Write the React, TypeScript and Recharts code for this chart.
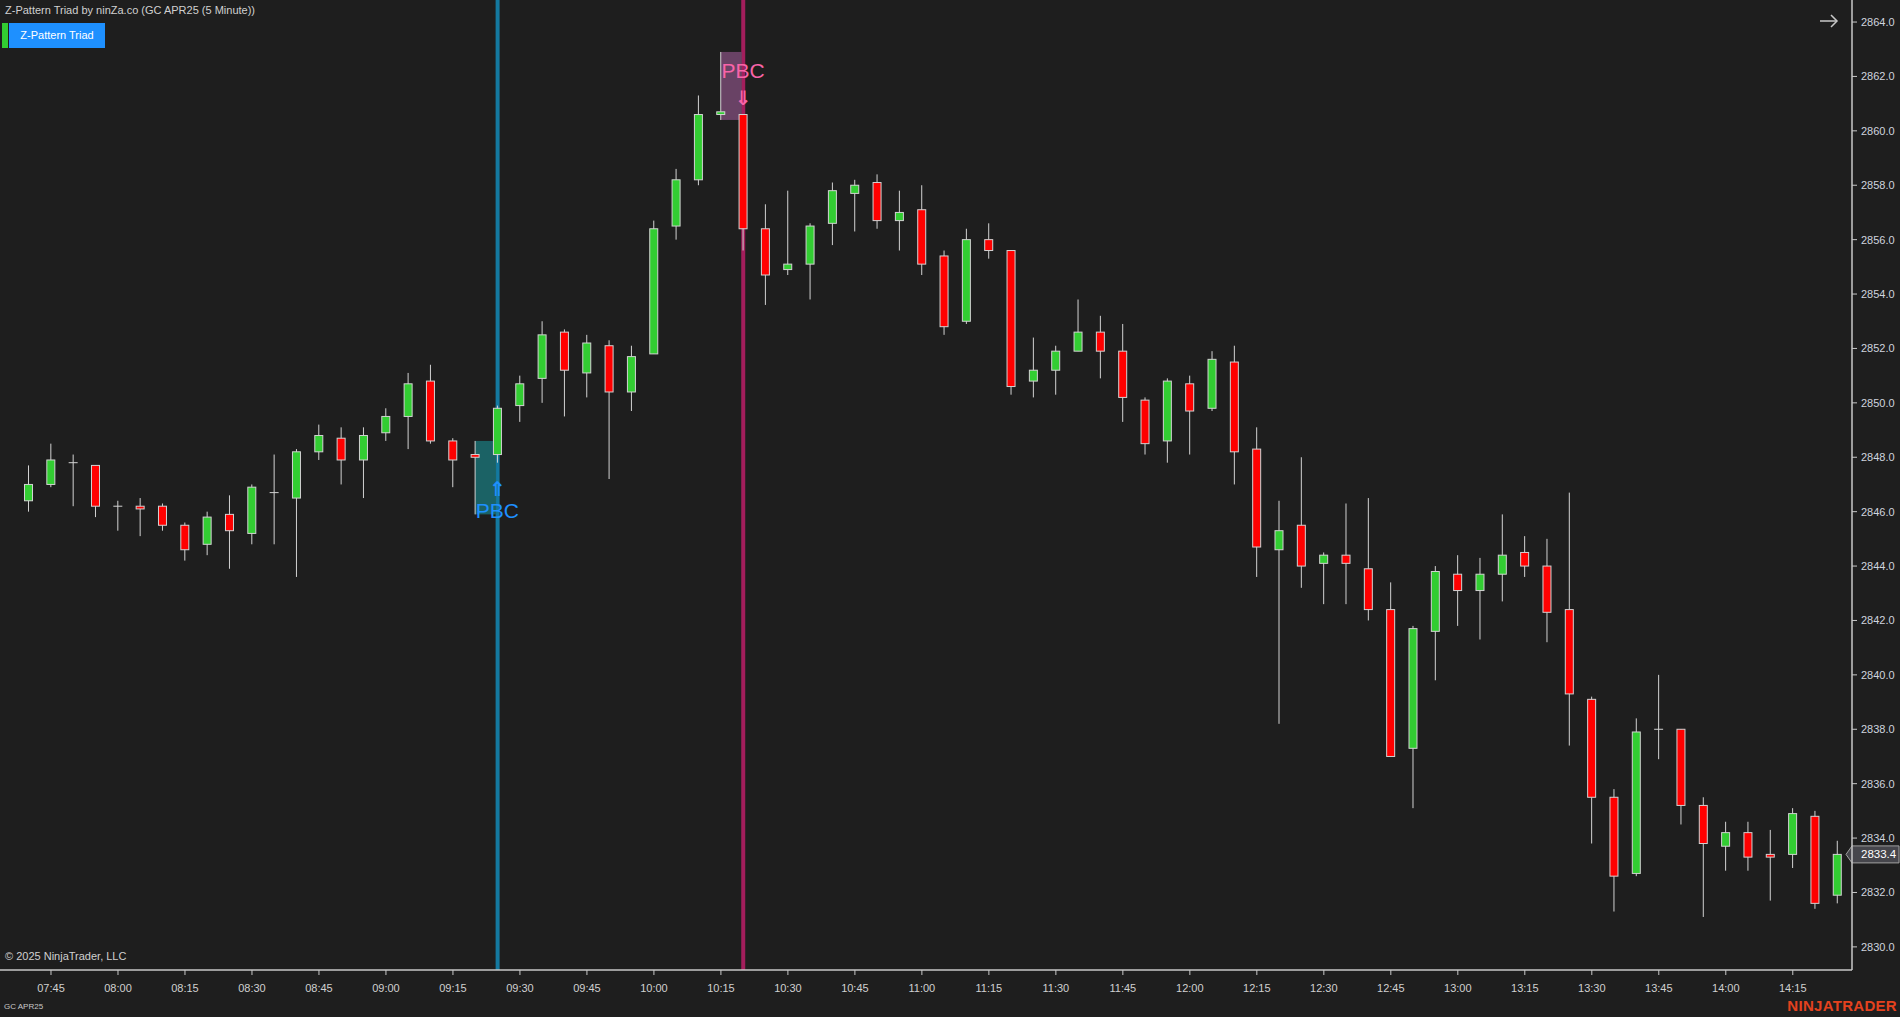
import React from 'react';
import { ComposedChart, Bar, XAxis, YAxis, ReferenceLine } from 'recharts';

const times = [
  '07:40', '07:45', '07:50', '07:55', '08:00', '08:05', '08:10', '08:15', '08:20', '08:25',
  '08:30', '08:35', '08:40', '08:45', '08:50', '08:55', '09:00', '09:05', '09:10', '09:15',
  '09:20', '09:25', '09:30', '09:35', '09:40', '09:45', '09:50', '09:55', '10:00', '10:05',
  '10:10', '10:15', '10:20', '10:25', '10:30', '10:35', '10:40', '10:45', '10:50', '10:55',
  '11:00', '11:05', '11:10', '11:15', '11:20', '11:25', '11:30', '11:35', '11:40', '11:45',
  '11:50', '11:55', '12:00', '12:05', '12:10', '12:15', '12:20', '12:25', '12:30', '12:35',
  '12:40', '12:45', '12:50', '12:55', '13:00', '13:05', '13:10', '13:15', '13:20', '13:25',
  '13:30', '13:35', '13:40', '13:45', '13:50', '13:55', '14:00', '14:05', '14:10', '14:15',
  '14:20', '14:25',
];

const opens = [
  2846.4, 2847.0, 2847.8, 2847.7, 2846.2, 2846.2, 2846.2, 2845.5, 2844.8, 2845.9,
  2845.2, 2846.7, 2846.5, 2848.2, 2848.7, 2847.9, 2848.9, 2849.5, 2850.8, 2848.6,
  2848.1, 2848.1, 2849.9, 2850.9, 2852.6, 2851.1, 2852.1, 2850.4, 2851.8, 2856.5,
  2858.2, 2860.6, 2860.6, 2856.4, 2854.9, 2855.1, 2856.6, 2857.7, 2858.1, 2856.7,
  2857.1, 2855.4, 2853.0, 2856.0, 2855.6, 2850.8, 2851.2, 2851.9, 2852.6, 2851.9,
  2850.1, 2848.6, 2850.7, 2849.8, 2851.5, 2848.3, 2844.6, 2845.5, 2844.1, 2844.4,
  2843.9, 2842.4, 2837.3, 2841.6, 2843.7, 2843.1, 2843.7, 2844.5, 2844.0, 2842.4,
  2839.1, 2835.5, 2832.7, 2838.0, 2838.0, 2835.2, 2833.7, 2834.2, 2833.4, 2833.4,
  2834.8, 2831.9,
];

const highs = [
  2847.7, 2848.5, 2848.1, 2847.7, 2846.4, 2846.5, 2846.3, 2845.6, 2846.0, 2846.6,
  2847.0, 2848.1, 2848.3, 2849.2, 2849.1, 2849.1, 2849.8, 2851.1, 2851.4, 2848.7,
  2848.6, 2849.9, 2851.0, 2853.0, 2852.7, 2852.5, 2852.3, 2852.1, 2856.7, 2858.6,
  2861.3, 2862.9, 2860.6, 2857.3, 2857.8, 2856.6, 2858.1, 2858.2, 2858.4, 2857.8,
  2858.0, 2855.6, 2856.4, 2856.6, 2855.6, 2852.4, 2852.1, 2853.8, 2853.2, 2852.9,
  2850.2, 2850.9, 2851.0, 2851.9, 2852.1, 2849.1, 2846.4, 2848.0, 2844.5, 2846.3,
  2846.5, 2843.4, 2841.8, 2844.0, 2844.4, 2844.3, 2845.9, 2845.1, 2845.0, 2846.7,
  2839.2, 2835.8, 2838.4, 2840.0, 2838.0, 2835.5, 2834.6, 2834.6, 2834.3, 2835.1,
  2835.0, 2833.9,
];

const lows = [
  2846.0, 2846.9, 2846.2, 2845.8, 2845.3, 2845.1, 2845.3, 2844.2, 2844.4, 2843.9,
  2844.8, 2844.8, 2843.6, 2847.9, 2847.0, 2846.5, 2848.6, 2848.3, 2848.5, 2846.9,
  2845.9, 2847.8, 2849.3, 2850.0, 2849.5, 2850.2, 2847.2, 2849.7, 2851.8, 2856.0,
  2858.0, 2860.4, 2855.6, 2853.6, 2854.7, 2853.8, 2855.8, 2856.3, 2856.4, 2855.6,
  2854.7, 2852.5, 2852.9, 2855.3, 2850.3, 2850.2, 2850.3, 2851.9, 2850.9, 2849.3,
  2848.1, 2847.8, 2848.1, 2849.7, 2847.0, 2843.6, 2838.2, 2843.2, 2842.6, 2842.6,
  2842.0, 2837.0, 2835.1, 2839.8, 2841.8, 2841.3, 2842.7, 2843.6, 2841.2, 2837.4,
  2833.8, 2831.3, 2832.6, 2836.9, 2834.5, 2831.1, 2832.8, 2832.8, 2831.7, 2832.9,
  2831.4, 2831.6,
];

const closes = [
  2847.0, 2847.9, 2847.8, 2846.2, 2846.2, 2846.1, 2845.5, 2844.6, 2845.8, 2845.3,
  2846.9, 2846.7, 2848.2, 2848.8, 2847.9, 2848.8, 2849.5, 2850.7, 2848.6, 2847.9,
  2848.0, 2849.8, 2850.7, 2852.5, 2851.2, 2852.2, 2850.4, 2851.7, 2856.4, 2858.2,
  2860.6, 2860.7, 2856.4, 2854.7, 2855.1, 2856.5, 2857.8, 2858.0, 2856.7, 2857.0,
  2855.1, 2852.8, 2856.0, 2855.6, 2850.6, 2851.2, 2851.9, 2852.6, 2851.9, 2850.2,
  2848.5, 2850.8, 2849.7, 2851.6, 2848.2, 2844.7, 2845.3, 2844.0, 2844.4, 2844.1,
  2842.4, 2837.0, 2841.7, 2843.8, 2843.1, 2843.7, 2844.4, 2844.0, 2842.3, 2839.3,
  2835.5, 2832.6, 2837.9, 2838.0, 2835.2, 2833.8, 2834.2, 2833.3, 2833.3, 2834.9,
  2831.6, 2833.4,
];

const xTicks = [
  '07:45', '08:00', '08:15', '08:30', '08:45', '09:00', '09:15', '09:30', '09:45', '10:00',
  '10:15', '10:30', '10:45', '11:00', '11:15', '11:30', '11:45', '12:00', '12:15', '12:30',
  '12:45', '13:00', '13:15', '13:30', '13:45', '14:00', '14:15',
];

const yTicks = [
  2830, 2832, 2834, 2836, 2838, 2840, 2842, 2844, 2846, 2848,
  2850, 2852, 2854, 2856, 2858, 2860, 2862, 2864,
];

const Y_DOMAIN: [number, number] = [2829.15, 2864.81];

const UP_BOX_TIME = '09:20';
const UP_SIGNAL_TIME = '09:25';
const DOWN_BOX_TIME = '10:15';
const DOWN_SIGNAL_TIME = '10:20';
const SIGNAL_LABEL = 'PBC';

const LAST_PRICE = closes[closes.length - 1];

const data = times.map((t, i) => ({
  time: t,
  open: opens[i],
  high: highs[i],
  low: lows[i],
  close: closes[i],
}));

const FONT = '"Liberation Sans", Arial, sans-serif';
const UP_COLOR = '#32cd32';
const DOWN_COLOR = '#ff0000';
const OUTLINE = '#d2d2d2';
const BG = '#1e1e1e';
const BLUE_TEXT = '#1e90ff';
const PINK_TEXT = '#f864a8';

const Candle = (props: any) => {
  const { x, y, width, height, payload } = props;
  if (!payload || x == null || y == null) return null;
  const top = Math.min(y, y + height);
  const bot = Math.max(y, y + height);
  const range = payload.high - payload.low;
  const py = (p: number) => (range === 0 ? top : top + ((payload.high - p) / range) * (bot - top));
  const cx = x + width / 2;
  const half = 4;
  const oY = py(payload.open);
  const cY = py(payload.close);
  const bTop = Math.min(oY, cY);
  const bBot = Math.max(oY, cY);
  const isUp = payload.close > payload.open;
  const isDoji = payload.close === payload.open;
  const parts: React.ReactNode[] = [];

  if (payload.time === UP_BOX_TIME) {
    parts.push(
      <rect key="box" x={cx} y={top} width={width - 1} height={bot - top} fill="#1b6669" fillOpacity={0.95} />
    );
  }
  if (payload.time === DOWN_BOX_TIME) {
    parts.push(
      <rect key="box" x={cx} y={top} width={width - 1} height={bot - top} fill="#6e4569" fillOpacity={0.95} />
    );
  }

  parts.push(<line key="wick" x1={cx} x2={cx} y1={top} y2={bot} stroke={OUTLINE} strokeWidth={1} />);
  if (isDoji) {
    parts.push(
      <line key="doji" x1={cx - half - 0.5} x2={cx + half + 0.5} y1={oY} y2={oY} stroke={OUTLINE} strokeWidth={1} />
    );
  } else {
    parts.push(
      <rect
        key="body"
        x={cx - half}
        y={bTop}
        width={half * 2}
        height={Math.max(bBot - bTop, 1.5)}
        fill={isUp ? UP_COLOR : DOWN_COLOR}
        stroke={OUTLINE}
        strokeWidth={1}
      />
    );
  }

  if (payload.time === UP_SIGNAL_TIME) {
    parts.push(
      <text key="arr" x={cx} y={bot + 26} textAnchor="middle" dominantBaseline="central" fill={BLUE_TEXT} fontSize={20} fontWeight="bold" fontFamily='"DejaVu Sans", sans-serif'>
        ⇑
      </text>
    );
    parts.push(
      <text key="lbl" x={cx} y={bot + 48} textAnchor="middle" dominantBaseline="central" fill={BLUE_TEXT} fontSize={21} fontFamily={FONT}>
        {SIGNAL_LABEL}
      </text>
    );
  }
  if (payload.time === DOWN_SIGNAL_TIME) {
    parts.push(
      <text key="arr" x={cx} y={top - 17} textAnchor="middle" dominantBaseline="central" fill={PINK_TEXT} fontSize={20} fontWeight="bold" fontFamily='"DejaVu Sans", sans-serif'>
        ⇓
      </text>
    );
    parts.push(
      <text key="lbl" x={cx} y={top - 44} textAnchor="middle" dominantBaseline="central" fill={PINK_TEXT} fontSize={21} fontFamily={FONT}>
        {SIGNAL_LABEL}
      </text>
    );
  }
  return <g>{parts}</g>;
};

const PriceMarker = (props: any) => {
  const { viewBox, price } = props;
  if (!viewBox) return null;
  const right = viewBox.x + viewBox.width;
  const yy = viewBox.y;
  const h = 8.5;
  return (
    <g>
      <path
        d={`M${right - 6},${yy} L${right},${yy - h} L${right + 47},${yy - h} L${right + 47},${yy + h} L${right},${yy + h} Z`}
        fill="#46464c"
        stroke="#a0a0a0"
        strokeWidth={1}
      />
      <text x={right + 9} y={yy} dominantBaseline="central" fill="#ffffff" fontSize={11.5} fontFamily={FONT}>
        {price.toFixed(1)}
      </text>
    </g>
  );
};

export default function App() {
  return (
    <div
      style={{
        position: 'absolute',
        left: 0,
        top: 0,
        width: 1900,
        height: 1017,
        background: BG,
        overflow: 'hidden',
        fontFamily: FONT,
      }}
    >
      <ComposedChart
        width={1900}
        height={1017}
        data={data}
        margin={{ top: 0, right: 0, bottom: 0, left: 0 }}
        barCategoryGap={0}
        barGap={0}
      >
        <XAxis
          dataKey="time"
          type="category"
          ticks={xTicks}
          interval={0}
          height={47}
          padding={{ left: 17.5, right: 3.4 }}
          axisLine={{ stroke: '#c8c8c8', strokeWidth: 1.5 }}
          tickLine={{ stroke: '#c8c8c8' }}
          tickSize={5}
          tickMargin={9}
          tick={{ fill: '#d0d0d0', fontSize: 11, fontFamily: FONT }}
        />
        <YAxis
          orientation="right"
          type="number"
          domain={Y_DOMAIN}
          allowDataOverflow
          ticks={yTicks}
          interval={0}
          width={48}
          axisLine={{ stroke: '#c8c8c8', strokeWidth: 1.5 }}
          tickLine={{ stroke: '#c8c8c8' }}
          tickSize={5}
          tickMargin={4}
          tickFormatter={(v: number) => v.toFixed(1)}
          tick={{ fill: '#cfd4de', fontSize: 11, fontFamily: FONT }}
        />
        <ReferenceLine x={UP_SIGNAL_TIME} stroke="#1479a0" strokeWidth={4} zIndex={150} />
        <ReferenceLine x={DOWN_SIGNAL_TIME} stroke="#a31e5c" strokeWidth={4} zIndex={150} />
        <Bar
          dataKey={(d: any) => [d.low, d.high]}
          shape={(p: any) => <Candle {...p} />}
          isAnimationActive={false}
          zIndex={300}
        />
        <ReferenceLine
          y={LAST_PRICE}
          strokeOpacity={0}
          ifOverflow="visible"
          label={<PriceMarker price={LAST_PRICE} />}
        />
      </ComposedChart>

      <div style={{ position: 'absolute', left: 5, top: 4, fontSize: 11, color: '#d0d0d0', whiteSpace: 'nowrap' }}>
        Z-Pattern Triad by ninZa.co (GC APR25 (5 Minute))
      </div>
      <div style={{ position: 'absolute', left: 2, top: 23, width: 6, height: 25, background: UP_COLOR }} />
      <div
        style={{
          position: 'absolute',
          left: 9,
          top: 23,
          width: 96,
          height: 25,
          background: BLUE_TEXT,
          color: '#ffffff',
          fontSize: 11,
          lineHeight: '25px',
          textAlign: 'center',
        }}
      >
        Z-Pattern Triad
      </div>
      <svg style={{ position: 'absolute', left: 1818, top: 13 }} width={22} height={16}>
        <line x1={2} y1={8} x2={19} y2={8} stroke="#c8c8c8" strokeWidth={1.5} />
        <polyline points="13,2 19,8 13,14" fill="none" stroke="#c8c8c8" strokeWidth={1.5} />
      </svg>
      <div style={{ position: 'absolute', left: 5, top: 950, fontSize: 11, color: '#d0d0d0', whiteSpace: 'nowrap' }}>
        © 2025 NinjaTrader, LLC
      </div>
      <div style={{ position: 'absolute', left: 4, top: 1002, fontSize: 8, color: '#c8c8c8', whiteSpace: 'nowrap' }}>
        GC APR25
      </div>
      <div
        style={{
          position: 'absolute',
          right: 3,
          top: 997,
          fontSize: 15,
          fontWeight: 'bold',
          color: '#e4421e',
          whiteSpace: 'nowrap',
          letterSpacing: 0.3,
        }}
      >
        NINJATRADER
      </div>
    </div>
  );
}
